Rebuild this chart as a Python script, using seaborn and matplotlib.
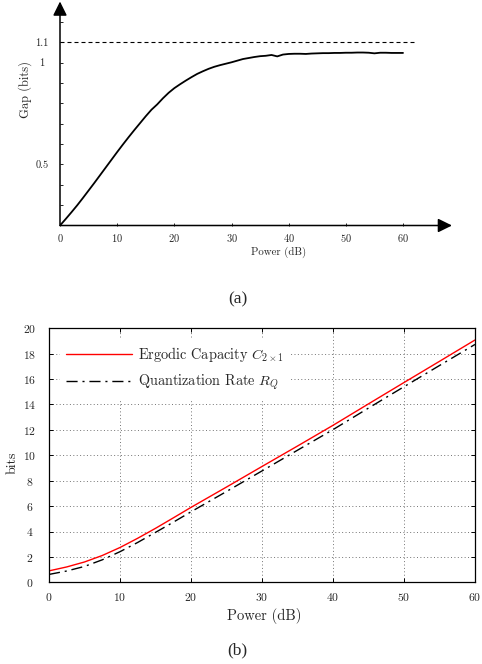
import matplotlib
matplotlib.use('Agg')
import matplotlib.pyplot as plt
import seaborn as sns

# ---- panel (a): gap vs power ----
POWER_A = list(range(0, 61))
GAP = [0.200, 0.232, 0.265, 0.299, 0.335, 0.372, 0.409, 0.447, 0.485, 0.523,
       0.561, 0.598, 0.634, 0.669, 0.703, 0.737, 0.769, 0.795, 0.825, 0.852,
       0.875, 0.894, 0.912, 0.929, 0.945, 0.958, 0.970, 0.980, 0.988, 0.995,
       1.002, 1.010, 1.018, 1.023, 1.028, 1.032, 1.034, 1.038, 1.031, 1.040,
       1.043, 1.044, 1.044, 1.043, 1.045, 1.046, 1.047, 1.047, 1.048, 1.048,
       1.049, 1.049, 1.050, 1.050, 1.049, 1.046, 1.049, 1.049, 1.048, 1.048,
       1.048]
GAP_BOUND = 1.1
BOUND_END_DB = 62
A_XTICKS = [0, 10, 20, 30, 40, 50, 60]
A_YTICKS = [0.3, 0.4, 0.5, 0.6, 0.7, 0.8, 0.9, 1.0, 1.1, 1.2]
A_YTICKLABELS = ['', '', '0.5', '', '', '', '', '1', '1.1', '']

# ---- panel (b): capacity and quantization rate ----
POWER_B = [0, 2.5, 5, 7.5, 10, 12.5, 15, 17.5, 20, 25, 30, 35, 40, 45, 50, 55, 60]
CAPACITY = [0.90, 1.21, 1.60, 2.11, 2.74, 3.47, 4.25, 5.07, 5.90, 7.50, 9.12,
            10.73, 12.36, 14.05, 15.73, 17.40, 19.08]
QUANT_RATE = [0.62, 0.89, 1.25, 1.77, 2.41, 3.14, 3.93, 4.73, 5.55, 7.15, 8.77,
              10.40, 12.02, 13.72, 15.40, 17.07, 18.73]
B_XTICKS = [0, 10, 20, 30, 40, 50, 60]
B_YTICKS = list(range(0, 21, 2))

sns.set_style('ticks')
plt.rcParams['font.family'] = ['cmr10', 'DejaVu Serif']
plt.rcParams['mathtext.fontset'] = 'cm'
plt.rcParams['axes.formatter.use_mathtext'] = True
CAPTION_FONT = ['Liberation Serif', 'DejaVu Serif']

fig = plt.figure(figsize=(4.82, 6.64), dpi=100)

# top panel, arrows instead of spines
ax1 = fig.add_axes([60 / 482, 1 - 225.5 / 664, 392 / 482, 224 / 664])
sns.lineplot(x=POWER_A, y=GAP, ax=ax1, color='k', lw=1.3)
ax1.hlines(GAP_BOUND, 0, BOUND_END_DB, colors='k', lw=0.8, linestyles=(0, (3.6, 2.7)))
ax1.set_xlim(0, 392 / 5.717)
ax1.set_ylim(0.2, 0.2 + 224 / 203.5)
for s in ax1.spines.values():
    s.set_visible(False)
arr = dict(arrowstyle='-|>,head_length=0.85,head_width=0.42', lw=1.1, color='k',
           mutation_scale=10, shrinkA=0, shrinkB=0)
ax1.annotate('', xy=(1, 0), xytext=(0, 0), xycoords='axes fraction', arrowprops=arr)
ax1.annotate('', xy=(0, 1), xytext=(0, 0), xycoords='axes fraction', arrowprops=arr)
ax1.set_xticks(A_XTICKS)
ax1.set_yticks(A_YTICKS, A_YTICKLABELS)
ax1.tick_params(direction='in', length=2.3, width=0.6, labelsize=7.5, color='k')
ax1.tick_params(axis='y', pad=13)
ax1.tick_params(axis='x', pad=5)
for lab in ax1.get_yticklabels():
    lab.set_ha('center')
ax1.set_xlabel('Power (dB)', fontsize=7.8)
ax1.xaxis.set_label_coords(0.557, -0.095)
ax1.set_ylabel('Gap (bits)', fontsize=9)
ax1.yaxis.set_label_coords(-0.072, 0.609)
fig.text(237.7 / 482, 1 - 299.5 / 664, '(a)', ha='center', va='center',
         family=CAPTION_FONT, fontsize=12.5)

# bottom panel
ax2 = fig.add_axes([49 / 482, 1 - 582.3 / 664, 426 / 482, 254 / 664])
sns.lineplot(x=POWER_B, y=CAPACITY, ax=ax2, color='#ff0000', lw=1.0,
             label=r'Ergodic Capacity $C_{2\times 1}$')
sns.lineplot(x=POWER_B, y=QUANT_RATE, ax=ax2, color='k', lw=1.0,
             linestyle=(0, (8, 3.5, 1.5, 3.5)), label=r'Quantization Rate $R_Q$')
ax2.set_xlim(0, 60)
ax2.set_ylim(0, 20)
ax2.set_xticks(B_XTICKS)
ax2.set_yticks(B_YTICKS)
ax2.grid(True, color='0.45', lw=0.7, ls=(0, (1, 2.5)))
for s in ax2.spines.values():
    s.set_linewidth(0.9)
    s.set_color('k')
ax2.tick_params(direction='in', length=2.9, width=0.7, top=True, right=True,
                labelsize=8.4, color='k')
ax2.tick_params(axis='y', pad=14.2)
ax2.tick_params(axis='x', pad=6)
for lab in ax2.get_yticklabels():
    lab.set_ha('center')
ax2.set_xlabel('Power (dB)', fontsize=10.5)
ax2.xaxis.set_label_coords(0.504, -0.103)
ax2.set_ylabel('bits', fontsize=10)
ax2.yaxis.set_label_coords(-0.071, 0.471)
ax2.legend(loc='upper left', frameon=True, fancybox=False, edgecolor='none',
           facecolor='white', framealpha=1, fontsize=10.3, handlelength=4.6,
           handletextpad=0.45, borderaxespad=0.75, borderpad=0.45, labelspacing=0.6)
fig.text(237.7 / 482, 1 - 650 / 664, '(b)', ha='center', va='center',
         family=CAPTION_FONT, fontsize=12.5)

plt.savefig('out.png', dpi=100)
